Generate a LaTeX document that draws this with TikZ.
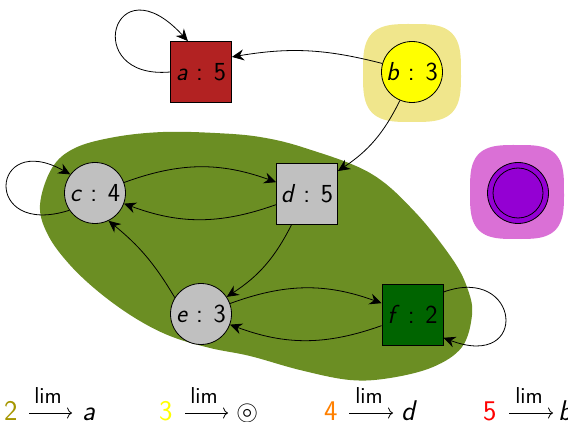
\documentclass[tikz,border=0pt]{standalone}
\usepackage{amssymb}
\usepackage{fontspec}
\usetikzlibrary{arrows.meta}
\definecolor{olivedrabC}{RGB}{107,142,35}
\definecolor{khakiC}{RGB}{240,230,140}
\definecolor{orchidC}{RGB}{218,112,214}
\definecolor{violetC}{RGB}{148,0,211}
\definecolor{firebrickC}{RGB}{178,34,34}
\definecolor{silverC}{RGB}{192,192,192}
\definecolor{dgreenC}{RGB}{0,100,0}
\definecolor{twoC}{RGB}{165,150,0}
\definecolor{threeC}{RGB}{255,255,0}
\definecolor{fourC}{RGB}{255,128,0}
\definecolor{fiveC}{RGB}{255,0,0}
\begin{document}
\begin{tikzpicture}[x=1pt,y=-1pt,
  state/.style={draw=black, line width=0.8pt, inner sep=0pt,
    font=\sffamily\fontsize{26}{30}\selectfont},
  circ/.style={state, circle, minimum size=61pt},
  sq/.style={state, rectangle, minimum size=61pt},
  arr/.style={-{Stealth[length=12pt,width=11pt,inset=4pt]}, line width=0.8pt},
  lbl/.style={anchor=base west, inner sep=0pt,
    font=\sffamily\fontsize{28.5}{32}\selectfont},
  limtxt/.style={anchor=base, inner sep=0pt,
    font=\sffamily\fontsize{23}{26}\selectfont},
  limarr/.style={-{To[length=5pt,width=11pt]}, line width=0.8pt}]
\useasboundingbox (0,0) rectangle (568,422);
% background blobs
\fill[olivedrabC] plot[smooth cycle, tension=0.6] coordinates {
  (40,205) (52,168) (75,148) (115,137) (163,132) (215,133) (260,137)
  (305,148) (370,173) (415,212) (453,260) (468,290) (472,315) (462,347)
  (433,367) (390,378) (350,380) (300,370) (250,356) (210,348) (170,336)
  (135,318) (100,293) (70,265) (48,235)};
\fill[khakiC] plot[domain=1:361, samples=91]
  ({412+49*sign(cos(\x))*abs(cos(\x))^0.6}, {73+49*sign(sin(\x))*abs(sin(\x))^0.6}) -- cycle;
\fill[orchidC] plot[domain=1:361, samples=91]
  ({517+47*sign(cos(\x))*abs(cos(\x))^0.6}, {192+47*sign(sin(\x))*abs(sin(\x))^0.6}) -- cycle;
% nodes
\node[sq, fill=firebrickC] (a) at (201,72) {\textit{a} : 5};
\node[circ, fill=threeC] (b) at (412,72) {\textit{b} : 3};
\node[circ, fill=silverC] (c) at (95,193) {\textit{c} : 4};
\node[sq, fill=silverC] (d) at (307,193.5) {\textit{d} : 5};
\node[circ, fill=silverC] (e) at (201,314) {\textit{e} : 3};
\node[sq, fill=dgreenC] (f) at (412.5,314.5) {\textit{f} : 2};
\node[circ, fill=violetC] (p) at (518,193) {};
\draw[line width=0.8pt] (p.center) circle[radius=25];
% edges
\draw[arr] (a.west) .. controls +(-90,8) and +(-75,-82) .. (a.113);
\draw[arr] (b.164) to[bend right=12] (a.26);
\draw[arr] (b.-113) to[bend left=15] (d.36);
\draw[arr] (c.214) .. controls +(-88,28) and +(-80,-45) .. (c.143);
\draw[arr] (c) to[bend left=20] (d);
\draw[arr] (d) to[bend left=20] (c);
\draw[arr] (d) to[bend left=15] (e);
\draw[arr] (e.148) to[bend right=10] (c.-64);
\draw[arr] (e) to[bend left=20] (f);
\draw[arr] (f) to[bend left=20] (e);
\draw[arr] (f.36) .. controls +(77,-28) and +(87,33) .. (f.-37);
% labels
\node[lbl] (n2) at (4,420) {\color{twoC}2};
\coordinate (s2) at (29,413); \coordinate (e2) at (72,413);
\draw[limarr] (s2) -- (e2);
\node[limtxt] (m2) at (48,403) {lim};
\node[lbl] (t2) at (82,420) {\textit{a}};

\node[lbl] (n3) at (159,420) {\color{threeC}3};
\coordinate (s3) at (185,413); \coordinate (e3) at (228,413);
\draw[limarr] (s3) -- (e3);
\node[limtxt] (m3) at (204,403) {lim};
\node[lbl] (t3) at (236,420) {$\circledcirc$};

\node[lbl] (n4) at (324,420) {\color{fourC}4};
\coordinate (s4) at (349,413); \coordinate (e4) at (393,413);
\draw[limarr] (s4) -- (e4);
\node[limtxt] (m4) at (369,403) {lim};
\node[lbl] (t4) at (401,420) {\textit{d}};

\node[lbl] (n5) at (483,420) {\color{fiveC}5};
\coordinate (s5) at (509,413); \coordinate (e5) at (553,413);
\draw[limarr] (s5) -- (e5);
\node[limtxt] (m5) at (529,403) {lim};
\node[lbl] (t5) at (558,420) {\textit{b}};
\end{tikzpicture}
\end{document}
